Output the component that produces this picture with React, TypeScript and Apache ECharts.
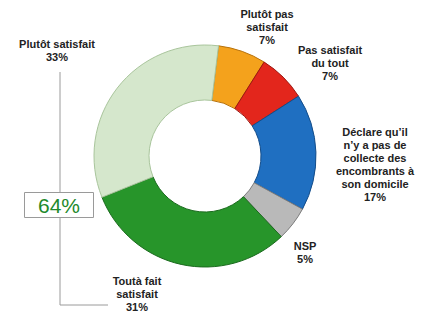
import React, { useEffect, useRef } from "react";
import * as echarts from "echarts";

const categories = [
  "Plutôt pas\nsatisfait",
  "Pas satisfait\ndu tout",
  "Déclare qu’il\nn’y a pas de\ncollecte des\nencombrants à\nson domicile",
  "NSP",
  "Toutà fait\nsatisfait",
  "Plutôt satisfait",
];
const values = [7, 7, 17, 5, 31, 33];
const colors = ["#f4a21c", "#e3261c", "#1f6fc1", "#b9b9b9", "#27952a", "#d5e7cc"];
const borders = ["#b7720c", "#9c1710", "#144d8a", "#7d7d7d", "#1a6a1d", "#a9c59c"];
// label anchor positions (centre of each label block)
const labelPos = [
  [267, 27],
  [330, 63],
  [375, 164],
  [305, 252],
  [137, 294],
  [57, 50],
];

export default function App() {
  const ref = useRef<HTMLDivElement>(null);
  useEffect(() => {
    if (!ref.current) return;
    const chart = echarts.init(ref.current, null, { renderer: "svg" });
    const satisfied = values[4] + values[5];
    chart.setOption({
      animation: false,
      backgroundColor: "#ffffff",
      series: [
        {
          type: "pie",
          center: [205, 156],
          radius: [56, 111],
          startAngle: 83,
          clockwise: true,
          avoidLabelOverlap: false,
          data: categories.map((c, i) => ({
            name: c,
            value: values[i],
            itemStyle: { color: colors[i], borderColor: borders[i], borderWidth: 1 },
          })),
          label: {
            show: true,
            formatter: (p: any) => `${p.name}\n${p.value}%`,
            fontFamily: "Liberation Sans, Arial, sans-serif",
            fontWeight: "bold",
            fontSize: 11,
            lineHeight: 13,
            color: "#222222",
            align: "center",
          },
          labelLine: { show: false },
          labelLayout: (params: any) => {
            const pos = labelPos[params.dataIndex];
            return { x: pos[0], y: pos[1], align: "center", verticalAlign: "middle" };
          },
          emphasis: { disabled: true },
        },
      ],
      graphic: [
        {
          type: "polyline",
          shape: { points: [[60, 72], [60, 305], [108, 305]] },
          style: { stroke: "#9a9a9a", lineWidth: 1, fill: null },
          z: 1,
        },
        {
          type: "rect",
          shape: { x: 24.5, y: 192.5, width: 69, height: 25 },
          style: { fill: "#ffffff", stroke: "#9a9a9a", lineWidth: 1 },
          z: 2,
        },
        {
          type: "text",
          x: 59,
          y: 205,
          style: {
            text: `${satisfied}%`,
            fill: "#1e8a2c",
            fontFamily: "Liberation Sans, Arial, sans-serif",
            fontSize: 21,
            align: "center",
            verticalAlign: "middle",
          },
          z: 3,
        },
      ],
    });
    return () => chart.dispose();
  }, []);
  return (
    <div
      ref={ref}
      style={{ position: "fixed", left: 0, top: 0, width: 431, height: 316 }}
    />
  );
}
